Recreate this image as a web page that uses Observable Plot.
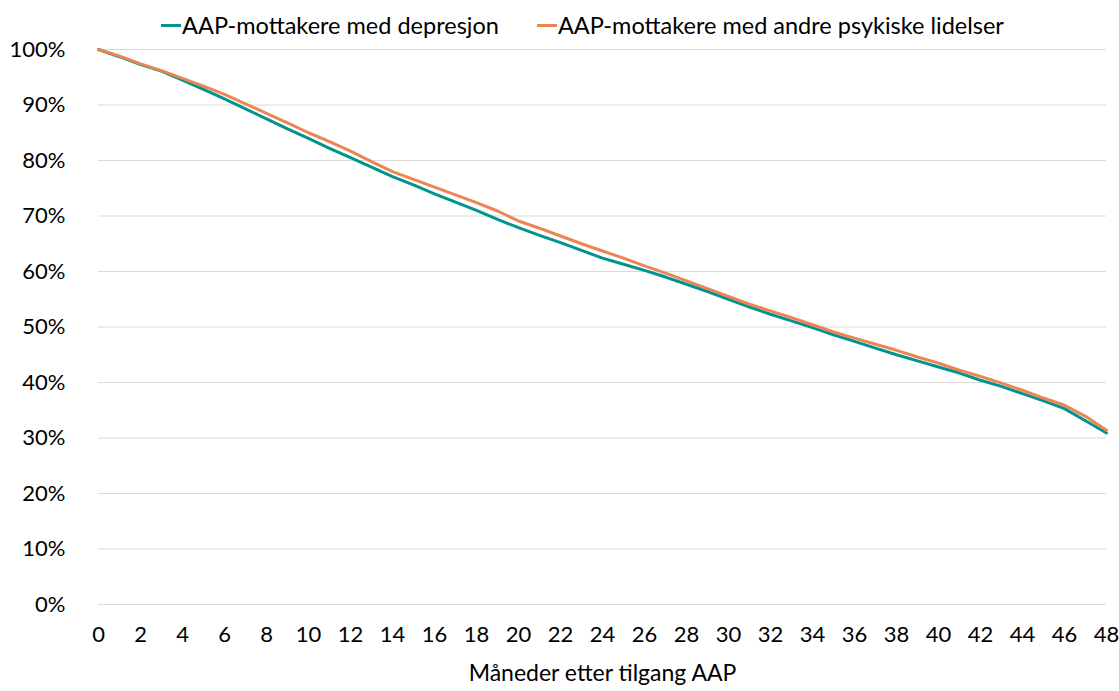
<!DOCTYPE html>
<html>
<head>
<meta charset="utf-8">
<script src="https://cdn.jsdelivr.net/npm/d3@7"></script>
<script src="https://cdn.jsdelivr.net/npm/@observablehq/plot@0.6"></script>
<style>
  html, body { margin: 0; padding: 0; background: #fff; }
  body { width: 1119px; height: 691px; overflow: hidden; position: relative; font-family: Lato, "Liberation Sans", Arial, sans-serif; }
  #legend { position: absolute; top: 11px; left: 0; width: 100%; height: 28px; display: flex; justify-content: center; align-items: center; font-size: 23.5px; color: #000; padding-left: 46px; box-sizing: border-box; z-index: 2; }
  .item { display: flex; align-items: center; margin: 0 19px; white-space: nowrap; }
  .sw { width: 20px; height: 3px; margin-right: 1px; }
  #chart svg { overflow: visible; }
</style>
</head>
<body>
<div id="legend"></div>
<div id="chart"></div>
<script>
const months = [0,1,2,3,4,5,6,7,8,9,10,11,12,13,14,15,16,17,18,19,20,21,22,23,24,25,26,27,28,29,30,31,32,33,34,35,36,37,38,39,40,41,42,43,44,45,46,47,48];
const depresjon = [100,98.7,97.3,96.1,94.5,92.8,91.1,89.3,87.5,85.7,84.0,82.2,80.5,78.8,77.1,75.6,74.0,72.5,71.0,69.4,67.9,66.5,65.2,63.8,62.4,61.3,60.2,59.0,57.7,56.4,55.0,53.6,52.3,51.1,49.9,48.6,47.4,46.2,45.0,43.9,42.8,41.7,40.4,39.3,38.0,36.7,35.3,33.1,30.9];
const andre = [100,98.8,97.4,96.2,94.8,93.4,91.9,90.2,88.5,86.8,85.0,83.4,81.7,79.8,78.0,76.6,75.2,73.8,72.4,70.9,69.1,67.8,66.4,65.0,63.7,62.4,61.0,59.7,58.3,56.9,55.5,54.1,52.9,51.7,50.4,49.1,48.0,46.9,45.8,44.6,43.5,42.2,41.1,39.9,38.6,37.2,35.9,33.9,31.4];
const seriesNames = ["AAP-mottakere med depresjon", "AAP-mottakere med andre psykiske lidelser"];
const seriesColors = ["#00938F", "#ED8553"];
const xTicks = [0,2,4,6,8,10,12,14,16,18,20,22,24,26,28,30,32,34,36,38,40,42,44,46,48];
const yTicks = [0,10,20,30,40,50,60,70,80,90,100];
const xLabel = "Måneder etter tilgang AAP";

const rows = [];
months.forEach((m, i) => {
  rows.push({m, v: depresjon[i], s: seriesNames[0]});
  rows.push({m, v: andre[i], s: seriesNames[1]});
});

const legend = document.getElementById("legend");
seriesNames.forEach((n, i) => {
  const it = document.createElement("div");
  it.className = "item";
  const sw = document.createElement("div");
  sw.className = "sw";
  sw.style.background = seriesColors[i];
  const t = document.createElement("span");
  t.textContent = n;
  it.appendChild(sw); it.appendChild(t);
  legend.appendChild(it);
});

const chart = Plot.plot({
  width: 1119,
  height: 691,
  marginTop: 49,
  marginBottom: 87,
  marginLeft: 98,
  marginRight: 13,
  style: { fontFamily: "Lato, Liberation Sans, Arial, sans-serif", fontSize: "22px", color: "#000", background: "#fff" },
  x: { domain: [0, 48], label: null },
  y: { domain: [0, 100], label: null },
  color: { domain: seriesNames, range: seriesColors },
  marks: [
    Plot.gridY(yTicks, { stroke: "#d9d9d9", strokeOpacity: 1, strokeWidth: 1 }),
    Plot.axisY({ ticks: yTicks, tickSize: 0, tickPadding: 33, tickFormat: d => d + "%", fontSize: 22, label: null }),
    Plot.axisX({ ticks: xTicks, tickSize: 0, tickPadding: 22, fontSize: 22, label: null }),
    Plot.axisX({ ticks: [], tickSize: 0, fontSize: 23, label: xLabel, labelAnchor: "center", labelArrow: "none", labelOffset: 76 }),
    Plot.line(rows, { x: "m", y: "v", z: "s", stroke: "s", strokeWidth: 3, curve: "linear" })
  ]
});
document.getElementById("chart").appendChild(chart);
</script>
</body>
</html>
